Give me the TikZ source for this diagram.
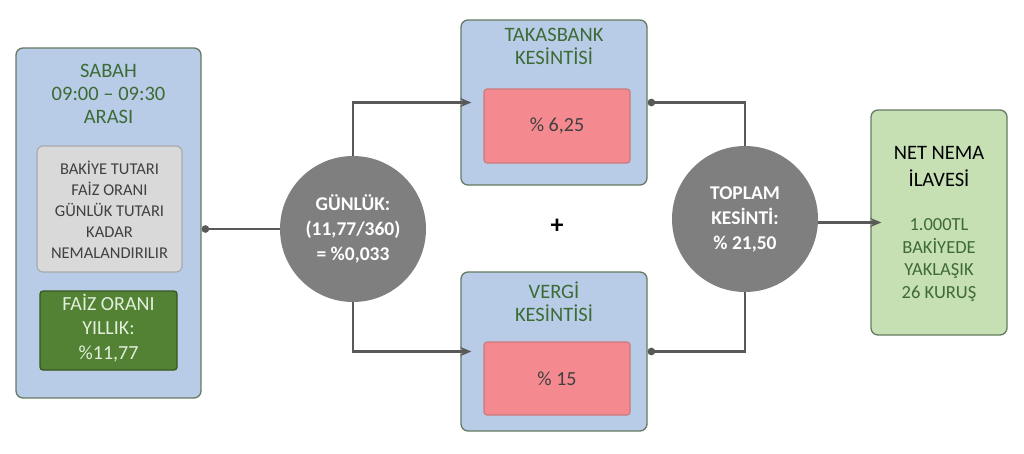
\documentclass[tikz,border=0pt]{standalone}
\usepackage{fontspec}
\setmainfont{Carlito}
\usetikzlibrary{arrows.meta}

\definecolor{panelblue}{HTML}{B8CCE8}
\definecolor{paneledge}{HTML}{667A62}
\definecolor{titlegreen}{HTML}{3D6B35}
\definecolor{notegrey}{HTML}{D9D9D9}
\definecolor{noteedge}{HTML}{A8A8A8}
\definecolor{rategreen}{HTML}{548235}
\definecolor{rateedge}{HTML}{36561F}
\definecolor{ratetext}{HTML}{E2EFDA}
\definecolor{cutred}{HTML}{F4898F}
\definecolor{cutedge}{HTML}{C97A7E}
\definecolor{netgreen}{HTML}{C6E0B4}
\definecolor{calcgrey}{HTML}{7F7F7F}
\definecolor{linegrey}{HTML}{595959}
\definecolor{textgrey}{HTML}{404040}

\tikzset{
  panel/.style={draw=paneledge, fill=panelblue, rounded corners=7pt, line width=1.3pt, inner sep=0pt},
  note/.style={draw=noteedge, fill=notegrey, rounded corners=6pt, line width=1.1pt, inner sep=0pt},
  ratebox/.style={draw=rateedge, fill=rategreen, rounded corners=3pt, line width=1.3pt, inner sep=0pt},
  cutbox/.style={draw=cutedge, fill=cutred, rounded corners=3pt, line width=1.1pt, inner sep=0pt},
  netbox/.style={draw=paneledge, fill=netgreen, rounded corners=7pt, line width=1.3pt, inner sep=0pt},
  calc/.style={circle, fill=calcgrey, minimum size=146pt, inner sep=0pt, text=white, align=center,
    font=\bfseries\fontsize{19.5}{25}\selectfont},
  title/.style={align=center, text=titlegreen, font=\fontsize{20.5}{23}\selectfont},
  conn/.style={draw=linegrey, line width=2.4pt},
  arr/.style={conn, -{Stealth[length=11pt,width=9pt]}, shorten >=-11pt},
  dot/.style={conn, {Circle[length=7.5pt]}-}
}

\begin{document}
\begin{tikzpicture}[x=1pt, y=-1pt]
  \useasboundingbox (0,0) rectangle (1024,453);

  % left panel
  \node[panel, minimum width=185pt, minimum height=350pt] (morning) at (108.5,223) {};
  \node[title] (morningtitle) at (108.5,94) {SABAH\\09:00 – 09:30\\ARASI};
  \node[note, minimum width=145pt, minimum height=126pt] (note) at (109.5,209) {};
  \node[align=center, text=textgrey, font=\fontsize{16.5}{21}\selectfont] (notetext) at (109.5,210)
    {BAKİYE TUTARI\\FAİZ ORANI\\GÜNLÜK TUTARI\\KADAR\\NEMALANDIRILIR};
  \node[ratebox, minimum width=137pt, minimum height=79pt] (rate) at (108.5,330.5) {};
  \node[align=center, text=ratetext, font=\fontsize{20}{24.5}\selectfont] (ratetext) at (108.5,328)
    {FAİZ ORANI\\YILLIK:\\\%11,77};

  % daily calculation
  \node[calc] (daily) at (353,229) {GÜNLÜK:\\(11,77/360)\\= \%0,033};

  % deductions
  \node[panel, minimum width=186pt, minimum height=165pt] (takas) at (554,102.5) {};
  \node[title] (takastitle) at (554,46) {TAKASBANK\\KESİNTİSİ};
  \node[cutbox, minimum width=146pt, minimum height=74pt, text=textgrey,
    font=\fontsize{20}{20}\selectfont] (takasrate) at (557,126) {\% 6,25};

  \node[panel, minimum width=186pt, minimum height=159pt] (vergi) at (554,351.5) {};
  \node[title] (vergititle) at (554,302) {VERGİ\\KESİNTİSİ};
  \node[cutbox, minimum width=146pt, minimum height=73pt, text=textgrey,
    font=\fontsize{20}{20}\selectfont] (vergirate) at (557,378.5) {\% 15};

  \node[font=\bfseries\fontsize{26}{26}\selectfont] (plus) at (557,226) {+};

  % total and result
  \node[calc] (total) at (745,219) {TOPLAM\\KESİNTİ:\\\% 21,50};

  \node[netbox, minimum width=136pt, minimum height=225pt] (net) at (939,222.5) {};
  \node[align=center, font=\fontsize{20.5}{27}\selectfont] (nettitle) at (939,166) {NET NEMA\\İLAVESİ};
  \node[align=center, text=titlegreen, font=\fontsize{18.5}{22.5}\selectfont] (nettext) at (939,260)
    {1.000TL\\BAKİYEDE\\YAKLAŞIK\\26 KURUŞ};

  \draw[dot] (daily.west -| morning.east) -- (daily.west);
  \draw[arr] (daily.north) |- (takas.west);
  \draw[arr] (daily.south) |- (vergi.west);
  \draw[dot] (takas.east) -| (total.north);
  \draw[dot] (vergi.east) -| (total.south);
  \draw[arr] (total.east |- net.west) -- (net.west);
\end{tikzpicture}
\end{document}
